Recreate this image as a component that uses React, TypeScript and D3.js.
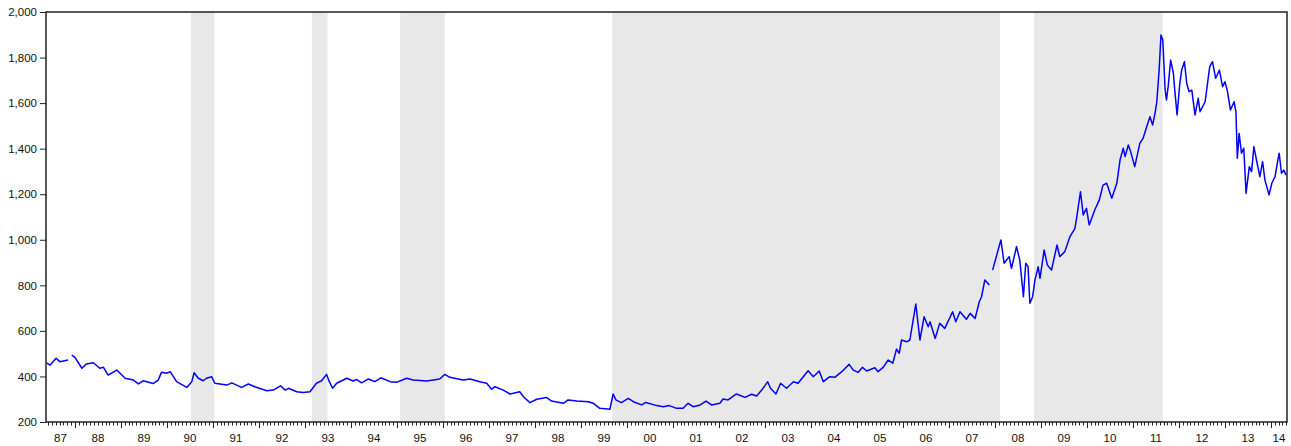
import React, { useRef, useEffect } from 'react';
import * as d3 from 'd3';

// price points (decimal year, US$/oz); null = gap in the series
const years: number[] = [
  1987.38, 1987.46, 1987.59, 1987.67, 1987.85, 1987.88, 1987.93, 1988.00, 1988.15, 1988.25,
  1988.40, 1988.54, 1988.62, 1988.72, 1988.91, 1989.09, 1989.27, 1989.38, 1989.48, 1989.70,
  1989.81, 1989.88, 1989.99, 1990.07, 1990.21, 1990.43, 1990.54, 1990.59, 1990.68, 1990.79,
  1990.86, 1990.97, 1991.04, 1991.30, 1991.41, 1991.62, 1991.77, 1991.91, 1992.17, 1992.31,
  1992.47, 1992.57, 1992.64, 1992.82, 1992.96, 1993.11, 1993.25, 1993.36, 1993.47, 1993.53,
  1993.60, 1993.69, 1993.91, 1994.05, 1994.12, 1994.23, 1994.38, 1994.52, 1994.65, 1994.85,
  1994.99, 1995.21, 1995.35, 1995.65, 1995.93, 1996.04, 1996.15, 1996.44, 1996.59, 1996.80,
  1996.95, 1997.06, 1997.13, 1997.31, 1997.46, 1997.67, 1997.75, 1997.89, 1998.04, 1998.25,
  1998.36, 1998.62, 1998.72, 1998.91, 1999.16, 1999.27, 1999.41, 1999.63, 1999.70, 1999.76,
  1999.88, 2000.03, 2000.14, 2000.32, 2000.41, 2000.65, 2000.79, 2000.92, 2001.08, 2001.22,
  2001.33, 2001.44, 2001.59, 2001.72, 2001.84, 2002.02, 2002.09, 2002.20, 2002.38, 2002.57,
  2002.71, 2002.82, 2002.93, 2003.06, 2003.12, 2003.24, 2003.34, 2003.47, 2003.62, 2003.72,
  2003.94, 2004.05, 2004.18, 2004.27, 2004.41, 2004.52, 2004.67, 2004.83, 2004.92, 2005.03,
  2005.12, 2005.21, 2005.39, 2005.46, 2005.57, 2005.68, 2005.78, 2005.86, 2005.92, 2005.97,
  2006.08, 2006.15, 2006.28, 2006.37, 2006.46, 2006.55, 2006.59, 2006.70, 2006.80, 2006.91,
  2007.08, 2007.15, 2007.24, 2007.38, 2007.46, 2007.57, 2007.66, 2007.71, 2007.78, 2007.88,
  2007.90, 2007.95, 2008.02, 2008.13, 2008.20, 2008.31, 2008.36, 2008.47, 2008.54, 2008.58,
  2008.62, 2008.67, 2008.72, 2008.76, 2008.82, 2008.87, 2008.94, 2008.98, 2009.07, 2009.14,
  2009.23, 2009.35, 2009.41, 2009.52, 2009.63, 2009.74, 2009.78, 2009.86, 2009.92, 2009.99,
  2010.05, 2010.17, 2010.27, 2010.35, 2010.43, 2010.54, 2010.65, 2010.72, 2010.79, 2010.83,
  2010.90, 2010.95, 2011.04, 2011.15, 2011.22, 2011.30, 2011.37, 2011.43, 2011.48, 2011.52,
  2011.57, 2011.61, 2011.65, 2011.67, 2011.70, 2011.73, 2011.77, 2011.82, 2011.88, 2011.91,
  2011.96, 2012.02, 2012.06, 2012.12, 2012.17, 2012.22, 2012.28, 2012.35, 2012.42, 2012.46,
  2012.57, 2012.67, 2012.73, 2012.80, 2012.88, 2012.95, 2013.00, 2013.05, 2013.12, 2013.20,
  2013.24, 2013.27, 2013.31, 2013.36, 2013.41, 2013.46, 2013.53, 2013.58, 2013.63, 2013.70,
  2013.76, 2013.82, 2013.87, 2013.96, 2014.02, 2014.09, 2014.14, 2014.18, 2014.23, 2014.28,
  2014.33,
];

const prices: (number | null)[] = [
  460, 450, 480, 465, 472, null, 494, 484, 436, 455,
  460, 436, 440, 406, 428, 392, 384, 367, 381, 369,
  384, 418, 414, 421, 377, 352, 377, 416, 392, 381,
  392, 399, 370, 362, 372, 352, 367, 355, 337, 340,
  359, 340, 348, 333, 329, 333, 370, 381, 409, 377,
  348, 370, 392, 380, 387, 372, 389, 377, 394, 377,
  374, 392, 384, 380, 389, 409, 396, 384, 389, 377,
  370, 344, 355, 340, 323, 333, 311, 285, 300, 308,
  292, 282, 297, 292, 289, 282, 260, 256, 323, 297,
  285, 304, 289, 275, 286, 272, 267, 272, 260, 260,
  282, 267, 275, 292, 275, 282, 301, 297, 323, 308,
  322, 314, 340, 377, 348, 323, 370, 348, 377, 370,
  425, 399, 424, 377, 399, 396, 421, 453, 428, 418,
  440, 424, 438, 421, 440, 472, 458, 520, 502, 560,
  552, 560, 718, 560, 662, 618, 640, 567, 633, 611,
  684, 640, 684, 651, 677, 655, 728, 750, 823, 801,
  null, 867, 919, 999, 897, 926, 875, 970, 911, 831,
  750, 897, 882, 721, 750, 823, 882, 831, 955, 889,
  867, 977, 926, 948, 1013, 1050, 1101, 1211, 1109, 1138,
  1065, 1131, 1175, 1240, 1248, 1182, 1248, 1350, 1402, 1365,
  1416, 1387, 1321, 1423, 1445, 1496, 1540, 1504, 1555, 1606,
  1745, 1899, 1877, 1789, 1657, 1614, 1679, 1789, 1731, 1657,
  1548, 1687, 1745, 1782, 1687, 1650, 1657, 1548, 1621, 1562,
  1606, 1760, 1782, 1709, 1745, 1672, 1694, 1657, 1570, 1606,
  1562, 1358, 1467, 1380, 1402, 1204, 1321, 1299, 1409, 1336,
  1277, 1343, 1262, 1197, 1248, 1277, 1336, 1380, 1292, 1306,
  1284,
];

// shaded periods (decimal years)
const shadeStart = [1990.52, 1993.15, 1995.07, 1999.68, 2008.85];
const shadeEnd = [1991.03, 1993.49, 1996.04, 2008.11, 2011.65];

const yTicks = [200, 400, 600, 800, 1000, 1200, 1400, 1600, 1800, 2000];
const yearLabels = ['87', '88', '89', '90', '91', '92', '93', '94', '95', '96', '97', '98', '99', '00',
  '01', '02', '03', '04', '05', '06', '07', '08', '09', '10', '11', '12', '13', '14'];

export default function App() {
  const chartRef = useRef<SVGSVGElement>(null);
  const width = 1291, height = 446;

  useEffect(() => {
    const margin = { top: 12, right: 4, bottom: 24, left: 46 };
    const svg = d3.select(chartRef.current);
    svg.selectAll('*').remove();

    const xMin = 1987.37, xMax = 2014.35;
    const xScale = d3.scaleLinear()
      .domain([xMin, xMax])
      .range([margin.left, width - margin.right]);
    const yScale = d3.scaleLinear()
      .domain([200, 2000])
      .range([height - margin.bottom, margin.top]);

    const font = 'Liberation Sans, Arial, sans-serif';
    const y0 = height - margin.bottom;

    // shading
    svg.append('g').selectAll('rect').data(shadeStart).join('rect')
      .attr('x', (d) => xScale(d))
      .attr('width', (d, i) => xScale(shadeEnd[i]) - xScale(d))
      .attr('y', margin.top)
      .attr('height', y0 - margin.top)
      .attr('fill', '#e8e8e8');

    // the series
    const pts = years.map((y, i) => [y, prices[i]] as [number, number | null]);
    const line = d3.line<[number, number | null]>()
      .defined((d) => d[1] !== null)
      .x((d) => xScale(d[0]))
      .y((d) => yScale(d[1] as number));
    svg.append('path').datum(pts)
      .attr('d', line)
      .attr('fill', 'none')
      .attr('stroke', '#0000ff')
      .attr('stroke-width', 1.5)
      .attr('stroke-linejoin', 'round');

    // y axis
    const yAxis = d3.axisLeft(yScale).tickValues(yTicks).tickSize(6).tickPadding(3)
      .tickFormat(d3.format(','));
    const gy = svg.append('g').attr('transform', `translate(${margin.left},0)`).call(yAxis);
    gy.select('.domain').remove();
    gy.selectAll('text').attr('font-family', font).attr('font-size', 11.5).attr('fill', '#111');
    gy.selectAll('line').attr('stroke', '#222');

    // x axis: monthly ticks, year labels centred on the visible part of each year
    const months: number[] = [];
    for (let yr = 1987; yr <= 2014; yr++) {
      for (let m = 0; m < 12; m++) {
        const t = yr + m / 12;
        if (t >= xMin && t <= xMax) months.push(t);
      }
    }
    svg.append('g').selectAll('line').data(months).join('line')
      .attr('x1', (d) => Math.round(xScale(d)) + 0.5)
      .attr('x2', (d) => Math.round(xScale(d)) + 0.5)
      .attr('y1', y0)
      .attr('y2', (d) => (Math.abs(d - Math.round(d)) < 1e-6 ? y0 + 6 : y0 + 3.5))
      .attr('stroke', '#222')
      .attr('stroke-width', 1);

    svg.append('g').selectAll('text').data(yearLabels).join('text')
      .attr('x', (d, i) => {
        const a = Math.max(1987 + i, xMin), b = Math.min(1988 + i, xMax);
        return xScale((a + b) / 2);
      })
      .attr('y', y0 + 20)
      .attr('text-anchor', 'middle')
      .attr('font-family', font)
      .attr('font-size', 11.5)
      .attr('fill', '#111')
      .text((d) => d);

    // frame
    svg.append('rect')
      .attr('x', margin.left)
      .attr('y', margin.top)
      .attr('width', width - margin.right - margin.left)
      .attr('height', y0 - margin.top)
      .attr('fill', 'none')
      .attr('stroke', '#222')
      .attr('stroke-width', 1.5);
  }, []);

  return (
    <div style={{ position: 'absolute', left: 0, top: 0 }}>
      <svg width={width} height={height} ref={chartRef} style={{ display: 'block' }} />
    </div>
  );
}
